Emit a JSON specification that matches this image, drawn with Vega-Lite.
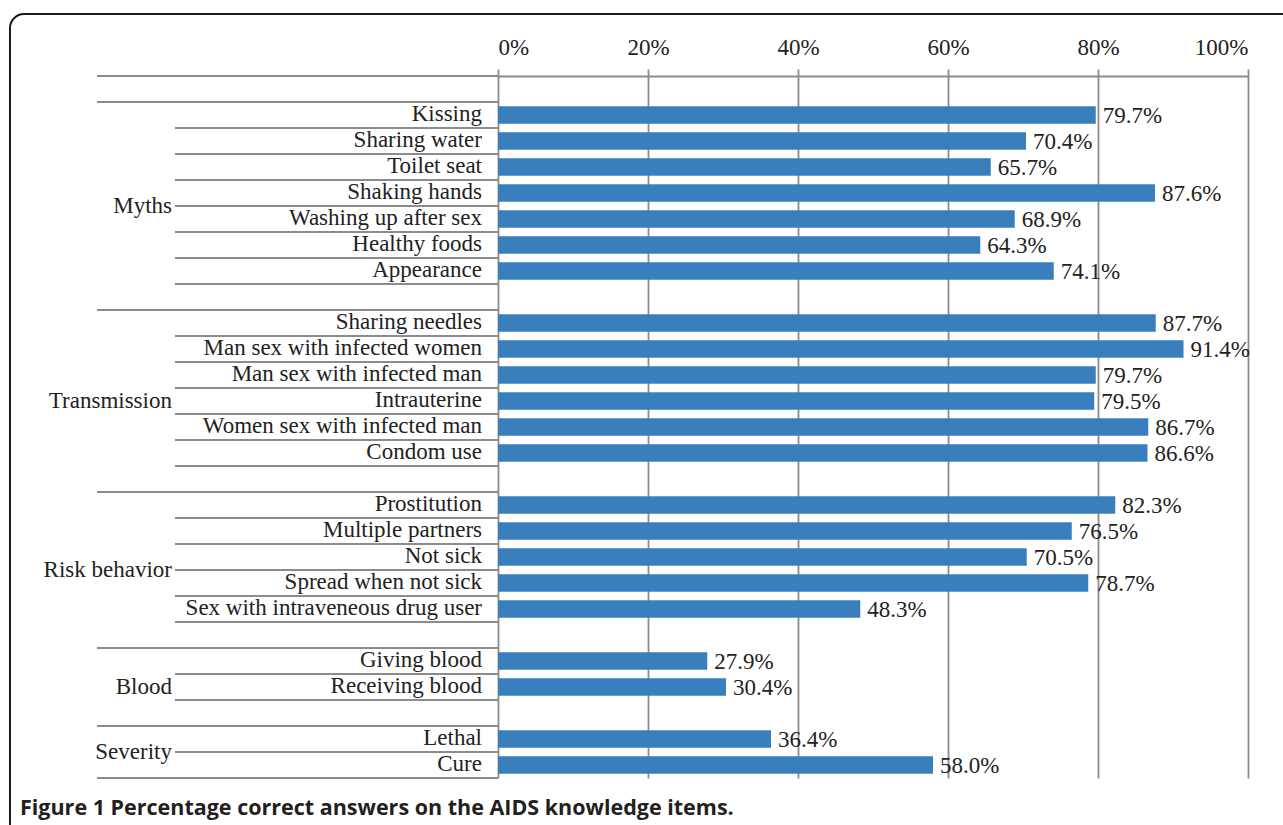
{
  "$schema": "https://vega.github.io/schema/vega-lite/v6.json",
  "width": 750,
  "height": 702,
  "autosize": "none",
  "padding": {"left": 498, "top": 76, "right": 35, "bottom": 47},
  "background": "white",
  "config": {"view": {"stroke": null}, "font": "Liberation Serif"},
  "datasets": {
    "rows": [
      {"row": "r00", "label": "", "value": null},
      {"row": "r01", "label": "Kissing", "value": 0.797},
      {"row": "r02", "label": "Sharing water", "value": 0.704},
      {"row": "r03", "label": "Toilet seat", "value": 0.657},
      {"row": "r04", "label": "Shaking hands", "value": 0.876},
      {"row": "r05", "label": "Washing up after sex", "value": 0.689},
      {"row": "r06", "label": "Healthy foods", "value": 0.643},
      {"row": "r07", "label": "Appearance", "value": 0.741},
      {"row": "r08", "label": "", "value": null},
      {"row": "r09", "label": "Sharing needles", "value": 0.877},
      {"row": "r10", "label": "Man sex with infected women", "value": 0.914},
      {"row": "r11", "label": "Man sex with infected man", "value": 0.797},
      {"row": "r12", "label": "Intrauterine", "value": 0.795},
      {"row": "r13", "label": "Women sex with infected man", "value": 0.867},
      {"row": "r14", "label": "Condom use", "value": 0.866},
      {"row": "r15", "label": "", "value": null},
      {"row": "r16", "label": "Prostitution", "value": 0.823},
      {"row": "r17", "label": "Multiple partners", "value": 0.765},
      {"row": "r18", "label": "Not sick", "value": 0.705},
      {"row": "r19", "label": "Spread when not sick", "value": 0.787},
      {"row": "r20", "label": "Sex with intraveneous drug user", "value": 0.483},
      {"row": "r21", "label": "", "value": null},
      {"row": "r22", "label": "Giving blood", "value": 0.279},
      {"row": "r23", "label": "Receiving blood", "value": 0.304},
      {"row": "r24", "label": "", "value": null},
      {"row": "r25", "label": "Lethal", "value": 0.364},
      {"row": "r26", "label": "Cure", "value": 0.58}
    ],
    "groups": [
      {"group": "Myths", "row": "r04", "at": "edge"},
      {"group": "Transmission", "row": "r12", "at": "middle"},
      {"group": "Risk behavior", "row": "r18", "at": "edge"},
      {"group": "Blood", "row": "r23", "at": "middle"},
      {"group": "Severity", "row": "r25", "at": "edge"}
    ]
  },
  "resolve": {"scale": {"y": "independent"}},
  "layer": [
    {
      "data": {"values": [{"caption": "Figure 1 Percentage correct answers on the AIDS knowledge items."}]},
      "layer": [
        {
          "mark": {"type": "rect", "fill": "transparent", "stroke": "#1a1a1a", "strokeWidth": 2, "cornerRadius": 14, "clip": false},
          "encoding": {
            "x": {"datum": -0.6507, "type": "quantitative", "scale": {"domain": [0, 1], "nice": false}},
            "x2": {"datum": 1.2},
            "y": {"datum": -2.38, "type": "quantitative", "scale": {"domain": [0, 27], "reverse": true, "nice": false, "zero": false}, "axis": null},
            "y2": {"datum": 30}
          }
        },
        {
          "mark": {"type": "text", "align": "left", "baseline": "middle", "dx": 10, "font": "Open Sans", "fontSize": 21.5, "fontWeight": "bold", "color": "#231f20", "clip": false},
          "encoding": {
            "x": {"datum": -0.6507, "type": "quantitative"},
            "y": {"datum": 28.2, "type": "quantitative"},
            "text": {"field": "caption"}
          }
        }
      ]
    },
    {
      "data": {"name": "rows"},
      "layer": [
        {
          "transform": [{"filter": "datum.label != ''"}],
          "mark": {"type": "bar", "color": "#3a7fbd", "height": {"band": 0.68}},
          "encoding": {
            "y": {"field": "row", "type": "nominal", "sort": "ascending", "scale": {"paddingInner": 0, "paddingOuter": 0}, "axis": null},
            "x": {
              "field": "value", "type": "quantitative",
              "scale": {"domain": [0, 1], "nice": false},
              "axis": {
                "orient": "top", "title": null, "values": [0, 0.2, 0.4, 0.6, 0.8, 1], "format": "%",
                "grid": true, "gridColor": "#8c8c8c", "gridWidth": 1.8,
                "domainColor": "#8c8c8c", "domainWidth": 2,
                "tickColor": "#8c8c8c", "tickWidth": 1.8, "tickSize": 7,
                "labelFont": "Liberation Serif", "labelFontSize": 23, "labelColor": "#222222", "labelPadding": 10
              }
            }
          }
        },
        {
          "transform": [{"filter": "datum.label != ''"}],
          "mark": {"type": "text", "align": "left", "baseline": "middle", "dx": 7, "dy": 1, "fontSize": 23, "color": "#222222", "font": "Liberation Serif"},
          "encoding": {
            "y": {"field": "row", "type": "nominal", "sort": "ascending", "axis": null},
            "x": {"field": "value", "type": "quantitative"},
            "text": {"field": "value", "type": "quantitative", "format": ".1%"}
          }
        },
        {
          "transform": [{"filter": "datum.label != ''"}],
          "mark": {"type": "text", "align": "right", "baseline": "middle", "dx": -16, "dy": -1, "fontSize": 23, "color": "#222222", "font": "Liberation Serif"},
          "encoding": {
            "y": {"field": "row", "type": "nominal", "sort": "ascending", "axis": null},
            "x": {"datum": 0, "type": "quantitative"},
            "text": {"field": "label"}
          }
        },
        {
          "transform": [{"filter": "datum.label != '' && datum.row != 'r26'"}],
          "mark": {"type": "rule", "color": "#8c8c8c", "strokeWidth": 2, "clip": false},
          "encoding": {
            "y": {"field": "row", "type": "nominal", "sort": "ascending", "bandPosition": 1, "axis": null},
            "x": {"datum": -0.4307, "type": "quantitative"},
            "x2": {"datum": 0}
          }
        },
        {
          "transform": [{"filter": "datum.label == '' || datum.row == 'r26'"}],
          "mark": {"type": "rule", "color": "#8c8c8c", "strokeWidth": 2, "clip": false},
          "encoding": {
            "y": {"field": "row", "type": "nominal", "sort": "ascending", "bandPosition": 1, "axis": null},
            "x": {"datum": -0.5347, "type": "quantitative"},
            "x2": {"datum": 0}
          }
        },
        {
          "transform": [{"filter": "datum.row == 'r00'"}],
          "mark": {"type": "rule", "color": "#8c8c8c", "strokeWidth": 2, "clip": false},
          "encoding": {
            "y": {"field": "row", "type": "nominal", "sort": "ascending", "bandPosition": 0, "axis": null},
            "x": {"datum": -0.5347, "type": "quantitative"},
            "x2": {"datum": 0}
          }
        },
        {
          "data": {"name": "groups"},
          "transform": [{"filter": "datum.at == 'edge'"}],
          "mark": {"type": "text", "align": "right", "baseline": "middle", "dx": -3, "fontSize": 23, "color": "#222222", "font": "Liberation Serif"},
          "encoding": {
            "y": {"field": "row", "type": "nominal", "sort": "ascending", "bandPosition": 1, "axis": null},
            "x": {"datum": -0.4307, "type": "quantitative"},
            "text": {"field": "group"}
          }
        },
        {
          "data": {"name": "groups"},
          "transform": [{"filter": "datum.at == 'middle'"}],
          "mark": {"type": "text", "align": "right", "baseline": "middle", "dx": -3, "fontSize": 23, "color": "#222222", "font": "Liberation Serif"},
          "encoding": {
            "y": {"field": "row", "type": "nominal", "sort": "ascending", "bandPosition": 0.5, "axis": null},
            "x": {"datum": -0.4307, "type": "quantitative"},
            "text": {"field": "group"}
          }
        }
      ]
    }
  ]
}
